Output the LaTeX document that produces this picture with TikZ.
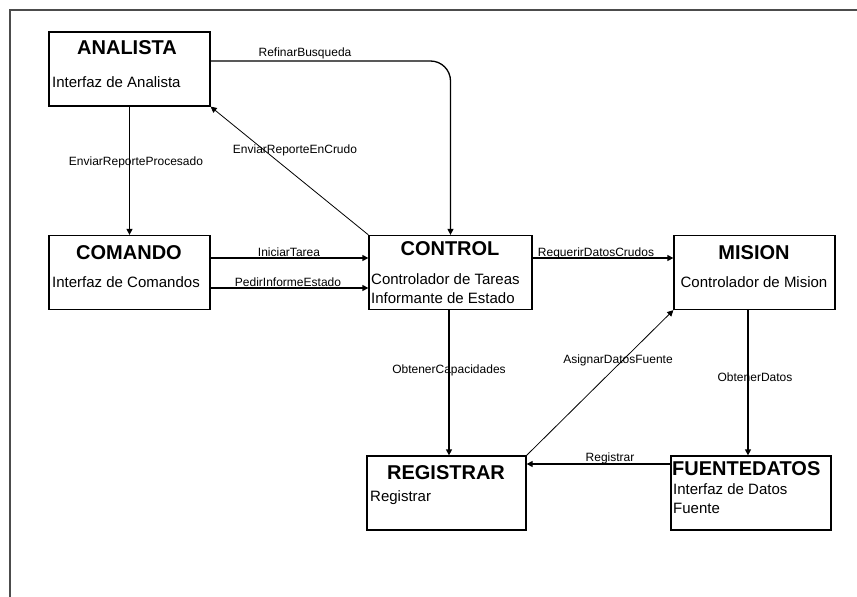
\documentclass[tikz,border=0pt]{standalone}
\usepackage{fontspec}
\setmainfont{Liberation Sans}
\usetikzlibrary{arrows.meta}
\begin{document}
\begin{tikzpicture}[x=1pt,y=-1pt,
  box/.style={draw,line width=1.3pt,minimum width=161pt,minimum height=74pt,inner sep=0pt},
  ttl/.style={font=\fontsize{20}{22}\selectfont\bfseries,inner sep=0pt},
  sub/.style={font=\fontsize{15}{17}\selectfont,inner sep=0pt,anchor=west},
  lbl/.style={font=\fontsize{12}{14}\selectfont,inner sep=0pt},
  flow/.style={line width=1.3pt,-{Triangle[length=6pt,width=6pt]}},
  thin/.style={line width=0.8pt,-{Triangle[length=6pt,width=6pt]}},
  frame/.style={line width=1.6pt,draw=black!70}]
\useasboundingbox (0,0) rectangle (857,597);
\fill[white] (0,0) rectangle (857,597);
% outer frame (top and left edges)
\draw[frame] (10,597) -- (10,10) -- (857,10);

% boxes
\node[box] (ana) at (129.5,69) {};
\node[box] (com) at (129.5,272.5) {};
\node[box,minimum width=163pt] (ctl) at (450.5,272.5) {};
\node[box] (mis) at (754.5,272.5) {};
\node[box,minimum width=159pt] (reg) at (446.5,493) {};
\node[box,minimum width=160pt] (fue) at (751,493) {};

% box texts
\node[ttl] (anat) at (127,48) {ANALISTA};
\node[sub] (anas) at (52,82) {Interfaz de Analista};
\node[ttl] (comt) at (129,253) {COMANDO};
\node[sub] (coms) at (52,282) {Interfaz de Comandos};
\node[ttl] (ctlt) at (450,249) {CONTROL};
\node[sub] (ctls1) at (371,279) {Controlador de Tareas};
\node[sub] (ctls2) at (371,298) {Informante de Estado};
\node[ttl] (mist) at (754,253) {MISION};
\node[sub,anchor=center] (miss) at (754,282) {Controlador de Mision};
\node[ttl] (regt) at (446,473) {REGISTRAR};
\node[sub] (regs) at (370,498) {Registrar};
\node[ttl,anchor=west] (fuet) at (672,469) {FUENTEDATOS};
\node[sub] (fues1) at (673,489) {Interfaz de Datos};
\node[sub] (fues2) at (673,508) {Fuente};

% connectors
\draw[flow,rounded corners=20pt] ([yshift=8pt]ana.east) -| (ctl.north);
\draw[flow] (ana.south) -- (com.north);
\draw[thin] (ctl.north west) -- (ana.south east);
\draw[flow] ([yshift=14.5pt]com.east) -- ([yshift=14.5pt]ctl.west);
\draw[flow] ([yshift=-15.5pt]com.east) -- ([yshift=-15.5pt]ctl.west);
\draw[flow] ([yshift=14.5pt]ctl.east) -- ([yshift=14.5pt]mis.west);
\draw[flow] ([xshift=-1.5pt]ctl.south) -- ([xshift=-1.5pt]ctl.south |- reg.north);
\draw[flow] ([xshift=-6.5pt]mis.south) -- ([xshift=-6.5pt]mis.south |- fue.north);
\draw[flow] ([yshift=29pt]fue.west) -- ([yshift=29pt]reg.east);
\draw[thin] (reg.north east) -- (mis.south west);

% connector labels
\node[lbl] (l1) at (305,53) {RefinarBusqueda};
\node[lbl] (l2) at (136,162) {EnviarReporteProcesado};
\node[lbl] (l3) at (295,150) {EnviarReporteEnCrudo};
\node[lbl,anchor=base] (l4) at (289,256) {IniciarTarea};
\node[lbl,anchor=base] (l5) at (288,286) {PedirInformeEstado};
\node[lbl,anchor=base] (l6) at (596,256) {RequerirDatosCrudos};
\node[lbl] (l7) at (449,370) {ObtenerCapacidades};
\node[lbl] (l8) at (618,360) {AsignarDatosFuente};
\node[lbl] (l9) at (755,377) {ObtenerDatos};
\node[lbl,anchor=base] (l10) at (610,461) {Registrar};
\end{tikzpicture}
\end{document}
